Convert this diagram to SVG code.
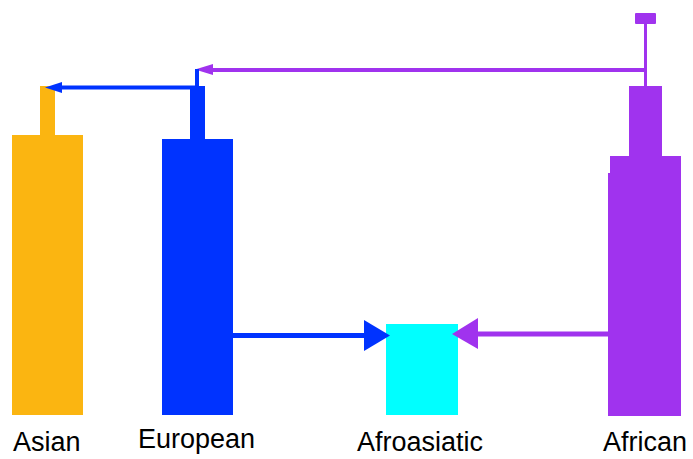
<svg xmlns="http://www.w3.org/2000/svg" width="693" height="459" viewBox="0 0 693 459">
<style>
.lbl{font-family:"Liberation Sans",Arial,sans-serif;font-size:27px;fill:#000}
.or{fill:#FBB511}
.bl{fill:#0033FF}
.cy{fill:#00FFFF}
.pu{fill:#A033EE}
.lb{stroke:#0033FF;fill:none}
.lp{stroke:#A033EE;fill:none}
</style>
<rect width="693" height="459" fill="#fff"/>
<g id="asian">
<rect class="or" x="40" y="86" width="15" height="50"/>
<rect class="or" x="12" y="135" width="71" height="280"/>
<text class="lbl" x="13" y="451">Asian</text>
</g>
<g id="european">
<rect class="bl" x="190" y="86" width="15" height="54"/>
<rect class="bl" x="162" y="139" width="71" height="276"/>
<text class="lbl" x="138" y="448">European</text>
</g>
<g id="afroasiatic">
<rect class="cy" x="386" y="324" width="72" height="91"/>
<text class="lbl" x="357" y="451">Afroasiatic</text>
</g>
<g id="african">
<rect class="pu" x="635" y="13" width="21" height="11" rx="1"/>
<rect class="pu" x="644" y="23" width="3" height="64"/>
<rect class="pu" x="629" y="86" width="33" height="71"/>
<rect class="pu" x="610" y="156" width="71" height="260"/>
<rect class="pu" x="608" y="173" width="4" height="243"/>
<text class="lbl" x="603" y="451">African</text>
</g>
<g id="connectors">
<path class="lp" d="M646 70 H205" stroke-width="4"/>
<polygon class="pu" points="195,69.5 213,64 213,75"/>
<path class="lb" d="M197 86 V69" stroke-width="4"/>
<path class="lb" d="M197 87.5 H55" stroke-width="4"/>
<polygon class="bl" points="45,87.5 62,82 62,93"/>
<path class="lb" d="M233 335.5 H370" stroke-width="5"/>
<polygon class="bl" points="390,335.5 364,320 364,351"/>
<path class="lp" d="M608 334 H470" stroke-width="5"/>
<polygon class="pu" points="452,334 478,318 478,349"/>
</g>
</svg>
